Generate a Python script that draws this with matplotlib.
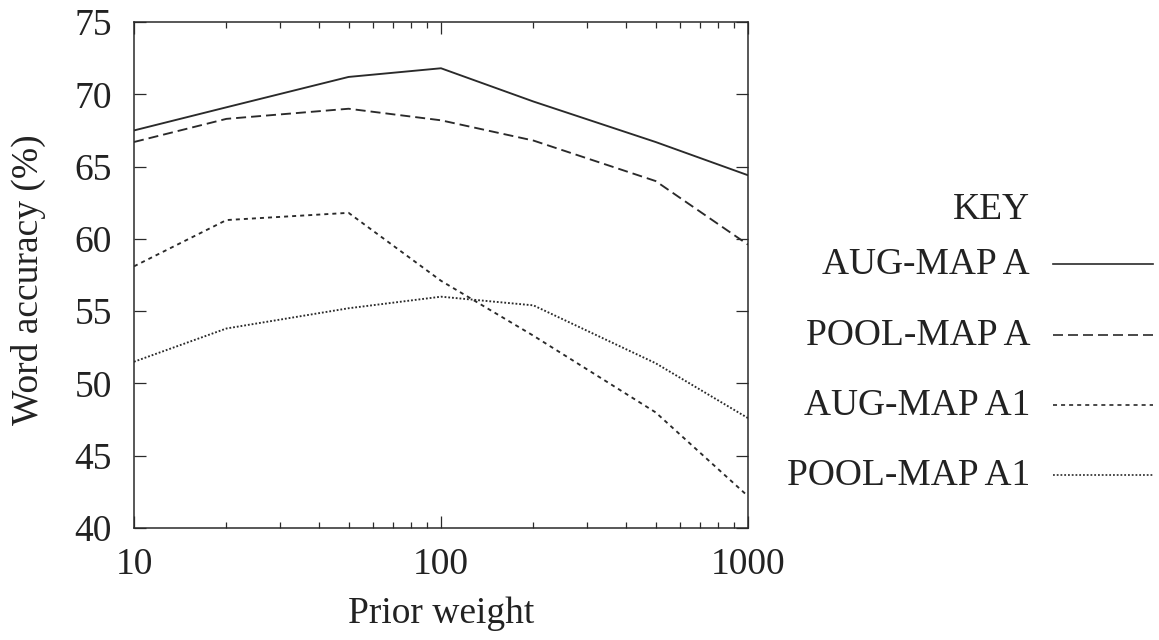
import matplotlib
matplotlib.use("Agg")
import matplotlib.pyplot as plt

# ---- data ----
prior_weight = [10, 20, 50, 100, 200, 500, 1000]
aug_map_a = [67.5, 69.1, 71.2, 71.8, 69.5, 66.7, 64.4]
pool_map_a = [66.7, 68.3, 69.0, 68.2, 66.8, 64.0, 59.6]
aug_map_a1 = [58.1, 61.3, 61.8, 57.1, 53.3, 48.0, 42.2]
pool_map_a1 = [51.5, 53.8, 55.2, 56.0, 55.4, 51.4, 47.6]
series_labels = ["AUG-MAP A", "POOL-MAP A", "AUG-MAP A1", "POOL-MAP A1"]
y_ticks = [40, 45, 50, 55, 60, 65, 70, 75]
x_ticks = [10, 100, 1000]
x_tick_labels = ["10", "100", "1000"]

plt.rcParams["font.family"] = ["Liberation Serif", "DejaVu Serif"]
plt.rcParams["lines.scale_dashes"] = False

W, H = 1159, 640
fig = plt.figure(figsize=(W / 100, H / 100), dpi=100)
fig.patch.set_facecolor("white")

L, R, T, B = 134, 748, 22, 528
ax = fig.add_axes([L / W, 1 - B / H, (R - L) / W, (B - T) / H])

ink = "#2a2a2a"
styles = [
    dict(linestyle="-"),
    dict(linestyle=(0, (7.2, 3.6))),
    dict(linestyle=(0, (2.9, 2.9))),
    dict(linestyle=(0, (1.3, 1.4))),
]
series = [aug_map_a, pool_map_a, aug_map_a1, pool_map_a1]
for vals, st, lab in zip(series, styles, series_labels):
    ax.plot(prior_weight, vals, color=ink, linewidth=1.35, label=lab, **st)

ax.set_xscale("log")
ax.set_xlim(10, 1000)
ax.set_ylim(40, 75)
ax.set_yticks(y_ticks)
ax.set_xticks(x_ticks)
ax.set_xticklabels(x_tick_labels)

fs = 27
ax.tick_params(which="both", direction="in", top=True, right=True,
               color=ink, labelcolor="#222222", labelsize=fs)
ax.tick_params(which="major", length=8.6, width=0.9)
ax.tick_params(which="minor", length=4.3, width=0.9)
ax.tick_params(axis="x", pad=14)
ax.tick_params(axis="y", pad=16)
ax.yaxis.set_tick_params(which="minor", right=False, left=False)
for sp in ax.spines.values():
    sp.set_linewidth(1.1)
    sp.set_color(ink)

ax.set_xlabel("Prior weight", fontsize=fs, color="#222222", va="center")
ax.xaxis.set_label_coords(0.5, (B - 614) / (B - T))
ax.set_ylabel("Word accuracy (%)", fontsize=fs, color="#222222", va="center")
ax.yaxis.set_label_coords((28 - L) / (R - L), (B - 280) / (B - T))

# ---- key (drawn in a pixel-coordinate overlay) ----
kax = fig.add_axes([0, 0, 1, 1], facecolor="none")
kax.set_xlim(0, W)
kax.set_ylim(H, 0)
kax.axis("off")
kax.text(1030, 210, "KEY", ha="right", va="center", fontsize=fs, color="#222222")
key_y = [264, 335, 405, 475]
for yk, st, lab in zip(key_y, styles, series_labels):
    kax.text(1030, yk + 1, lab, ha="right", va="center", fontsize=fs, color="#222222")
    kax.plot([1053, 1153], [yk, yk], color=ink, linewidth=1.2, **st)

fig.savefig("out.png", dpi=100, facecolor="white")
